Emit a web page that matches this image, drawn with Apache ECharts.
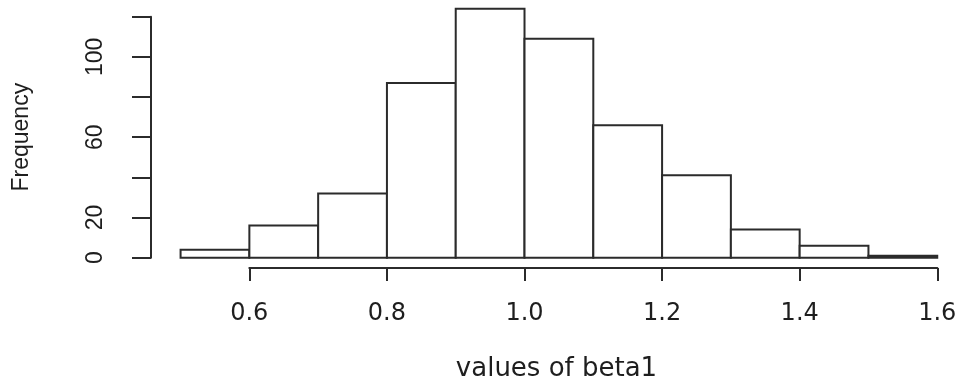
<!DOCTYPE html>
<html>
<head>
<meta charset="utf-8">
<script src="https://cdn.jsdelivr.net/npm/echarts@6/dist/echarts.min.js"></script>
<style>html,body{margin:0;padding:0;background:#fff;}#c{width:962px;height:382px;}</style>
</head>
<body>
<div id="c"></div>
<script>
// ---- data ----
var binStarts = [0.5, 0.6, 0.7, 0.8, 0.9, 1.0, 1.1, 1.2, 1.3, 1.4, 1.5];
var binEnds   = [0.6, 0.7, 0.8, 0.9, 1.0, 1.1, 1.2, 1.3, 1.4, 1.5, 1.6];
var counts    = [4, 16, 32, 87, 124, 109, 66, 41, 14, 6, 1];
var yTicks    = [0, 20, 40, 60, 80, 100, 120];
var yTickLabels = ['0', '20', '', '60', '', '100', ''];
var xTicks    = [0.6, 0.8, 1.0, 1.2, 1.4, 1.6];
var xTickLabels = ['0.6', '0.8', '1.0', '1.2', '1.4', '1.6'];
var xTitle = 'values of beta1';
var yTitle = 'Frequency';

var lineCol = '#2b2b2b';
var textCol = '#1e1e1e';

var histData = binStarts.map(function (s, i) { return [s, binEnds[i], counts[i]]; });

var chart = echarts.init(document.getElementById('c'), null, {renderer: 'canvas'});
chart.setOption({
  animation: false,
  backgroundColor: '#fff',
  grid: [
    {left: 151, right: 0, top: 16.7, bottom: 124.3, containLabel: false, outerBoundsMode: 'none'},
    {left: 249.3, right: 24.7, top: 200, bottom: 114, containLabel: false, outerBoundsMode: 'none'}
  ],
  xAxis: [
    {
      gridIndex: 0, type: 'value', min: 0.457, max: 1.636,
      axisLine: {show: false}, axisTick: {show: false}, axisLabel: {show: false},
      splitLine: {show: false},
      name: xTitle, nameLocation: 'middle', nameGap: 99,
      nameTextStyle: {fontFamily: 'DejaVu Sans', fontSize: 26, color: textCol}
    },
    {
      gridIndex: 1, type: 'value', min: xTicks[0], max: xTicks[xTicks.length - 1], interval: 0.2,
      axisLine: {show: true, lineStyle: {color: lineCol, width: 2}},
      axisTick: {show: true, length: 13, lineStyle: {color: lineCol, width: 2}},
      splitLine: {show: false},
      axisLabel: {
        margin: 34, fontFamily: 'DejaVu Sans', fontSize: 24, color: textCol,
        formatter: function (v) {
          for (var i = 0; i < xTicks.length; i++) if (Math.abs(xTicks[i] - v) < 1e-6) return xTickLabels[i];
          return '';
        }
      }
    }
  ],
  yAxis: [
    {
      gridIndex: 0, type: 'value', min: yTicks[0], max: yTicks[yTicks.length - 1], interval: 20,
      axisLine: {show: true, lineStyle: {color: lineCol, width: 2}},
      axisTick: {show: true, length: 19, lineStyle: {color: lineCol, width: 2}},
      splitLine: {show: false},
      axisLabel: {
        rotate: 90, margin: 44, fontFamily: 'Liberation Sans', fontSize: 23, color: textCol,
        formatter: function (v) {
          var i = yTicks.indexOf(v);
          return i >= 0 ? yTickLabels[i] : '';
        }
      },
      name: yTitle, nameLocation: 'middle', nameRotate: 90, nameGap: 118,
      nameTextStyle: {fontFamily: 'Liberation Sans', fontSize: 23, color: textCol}
    },
    {
      gridIndex: 1, type: 'value', show: false
    }
  ],
  series: [{
    type: 'custom',
    xAxisIndex: 0, yAxisIndex: 0,
    clip: false,
    encode: {x: [0, 1], y: 2},
    data: histData,
    renderItem: function (params, api) {
      var p0 = api.coord([api.value(0), api.value(2)]);
      var p1 = api.coord([api.value(1), 0]);
      return {
        type: 'rect',
        shape: {x: p0[0], y: p0[1], width: p1[0] - p0[0], height: p1[1] - p0[1]},
        style: {fill: '#fff', stroke: lineCol, lineWidth: 2}
      };
    }
  }]
});
</script>
</body>
</html>
